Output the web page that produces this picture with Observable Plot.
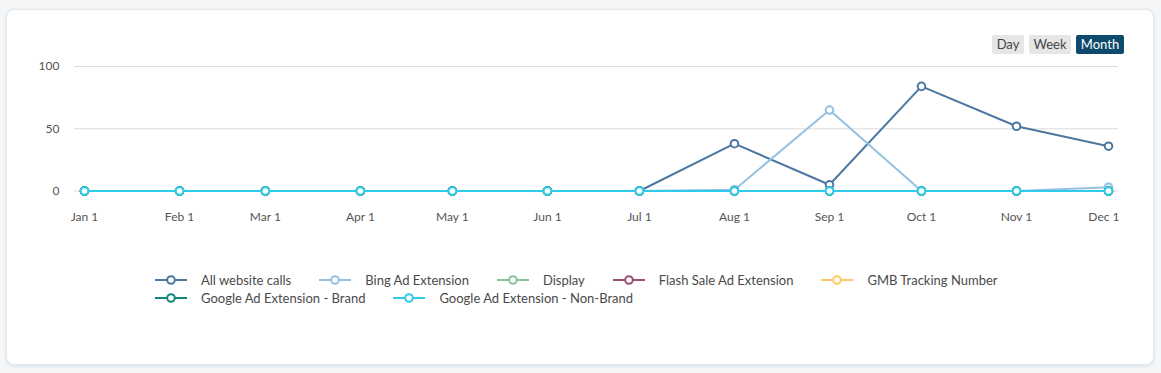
<!DOCTYPE html>
<html>
<head>
<meta charset="utf-8">
<script src="https://cdn.jsdelivr.net/npm/d3@7"></script>
<script src="https://cdn.jsdelivr.net/npm/@observablehq/plot@0.6"></script>
<style>
  html, body { margin: 0; padding: 0; }
  body { width: 1161px; height: 373px; background: #f4f6f8; position: relative; overflow: hidden; font-family: Lato, "Open Sans", sans-serif; }
  #card { position: absolute; left: 6px; top: 9px; width: 1146px; height: 354px; background: #fff; border: 1px solid #e1e8ee; border-radius: 8px; box-shadow: 0 1px 3px rgba(160,180,200,0.35); }
  #chart { position: absolute; left: 0; top: 0; }
  .btn { position: absolute; top: 35px; height: 19px; line-height: 19px; font-size: 13px; text-align: center; border-radius: 2px; background: #e6e6e6; color: #444; }
  .btn.active { background: #0d4a6b; color: #fff; }
  .legrow { position: absolute; left: 155px; display: flex; height: 18px; align-items: center; }
  .item { display: flex; align-items: center; margin-right: 28px; font-size: 13px; color: #4a4a4a; white-space: nowrap; }
  .item svg { margin-right: 14px; }
</style>
</head>
<body>
<div id="card"></div>
<div class="btn" style="left:992px;width:32px">Day</div>
<div class="btn" style="left:1029px;width:42px">Week</div>
<div class="btn active" style="left:1076px;width:48px">Month</div>
<div id="chart"></div>
<div class="legrow" id="row1" style="top:271px"></div>
<div class="legrow" id="row2" style="top:289px"></div>
<script>
const months = ["2023-01-01","2023-02-01","2023-03-01","2023-04-01","2023-05-01","2023-06-01","2023-07-01","2023-08-01","2023-09-01","2023-10-01","2023-11-01","2023-12-01"];
const seriesNames = ["All website calls","Bing Ad Extension","Display","Flash Sale Ad Extension","GMB Tracking Number","Google Ad Extension - Brand","Google Ad Extension - Non-Brand"];
const seriesColors = ["#4b77a1","#94c1e2","#86c59b","#9a4f72","#ffc962","#11867c","#2ecbeb"];
const allWebsiteCalls = [0,0,0,0,0,0,0,38,5,84,52,36];
const bingAdExtension = [0,0,0,0,0,0,0,1,65,0,0,3];
const display = [0,0,0,0,0,0,0,0,0,0,0,0];
const flashSaleAdExtension = [0,0,0,0,0,0,0,0,0,0,0,0];
const gmbTrackingNumber = [0,0,0,0,0,0,0,0,0,0,0,0];
const googleBrand = [0,0,0,0,0,0,0,0,0,0,0,0];
const googleNonBrand = [0,0,0,0,0,0,0,0,0,0,0,0];
const yTicks = [0,50,100];

const allValues = [allWebsiteCalls, bingAdExtension, display, flashSaleAdExtension, gmbTrackingNumber, googleBrand, googleNonBrand];
const data = [];
seriesNames.forEach((s, i) => months.forEach((m, j) => data.push({series: s, date: new Date(m + "T00:00:00Z"), value: allValues[i][j]})));
const monthDates = months.map(m => new Date(m + "T00:00:00Z"));

const marks = [
  Plot.ruleY(yTicks, {stroke: "#dcdcdc", strokeWidth: 1})
];
seriesNames.forEach((s, i) => {
  const d = data.filter(r => r.series === s);
  marks.push(Plot.line(d, {x: "date", y: "value", stroke: seriesColors[i], strokeWidth: 2}));
  marks.push(Plot.dot(d, {x: "date", y: "value", stroke: seriesColors[i], fill: "#fff", r: 3.8, strokeWidth: 2}));
});
const fmt = d3.utcFormat("%b %-d");
marks.push(Plot.axisX(monthDates.slice(0, -1), {tickSize: 0, tickPadding: 21, tickFormat: fmt, fontSize: 12, fill: "#555", label: null}));
marks.push(Plot.axisX(monthDates.slice(-1), {tickSize: 0, tickPadding: 21, tickFormat: fmt, fontSize: 12, fill: "#555", label: null, textAnchor: "end", dx: 11}));
marks.push(Plot.axisY(yTicks, {tickSize: 0, tickPadding: 15, fontSize: 12, fill: "#555", label: null}));

const chart = Plot.plot({
  width: 1161,
  height: 240,
  marginLeft: 74,
  marginRight: 43,
  marginTop: 66,
  marginBottom: 49.5,
  insetLeft: 10,
  insetRight: 10,
  style: {fontFamily: "Lato, 'Open Sans', sans-serif", background: "transparent", overflow: "visible"},
  x: {type: "utc", domain: [monthDates[0], monthDates[monthDates.length - 1]], label: null},
  y: {domain: [0, 100], label: null},
  marks
});
document.getElementById("chart").appendChild(chart);

function legendItem(i) {
  const el = document.createElement("div");
  el.className = "item";
  const c = seriesColors[i];
  el.innerHTML = `<svg width="32" height="12"><line x1="0" y1="6" x2="32" y2="6" stroke="${c}" stroke-width="2"/><circle cx="16" cy="6" r="3.8" fill="#fff" stroke="${c}" stroke-width="2"/></svg><span>${seriesNames[i]}</span>`;
  return el;
}
[0,1,2,3,4].forEach(i => document.getElementById("row1").appendChild(legendItem(i)));
[5,6].forEach(i => document.getElementById("row2").appendChild(legendItem(i)));
</script>
</body>
</html>
